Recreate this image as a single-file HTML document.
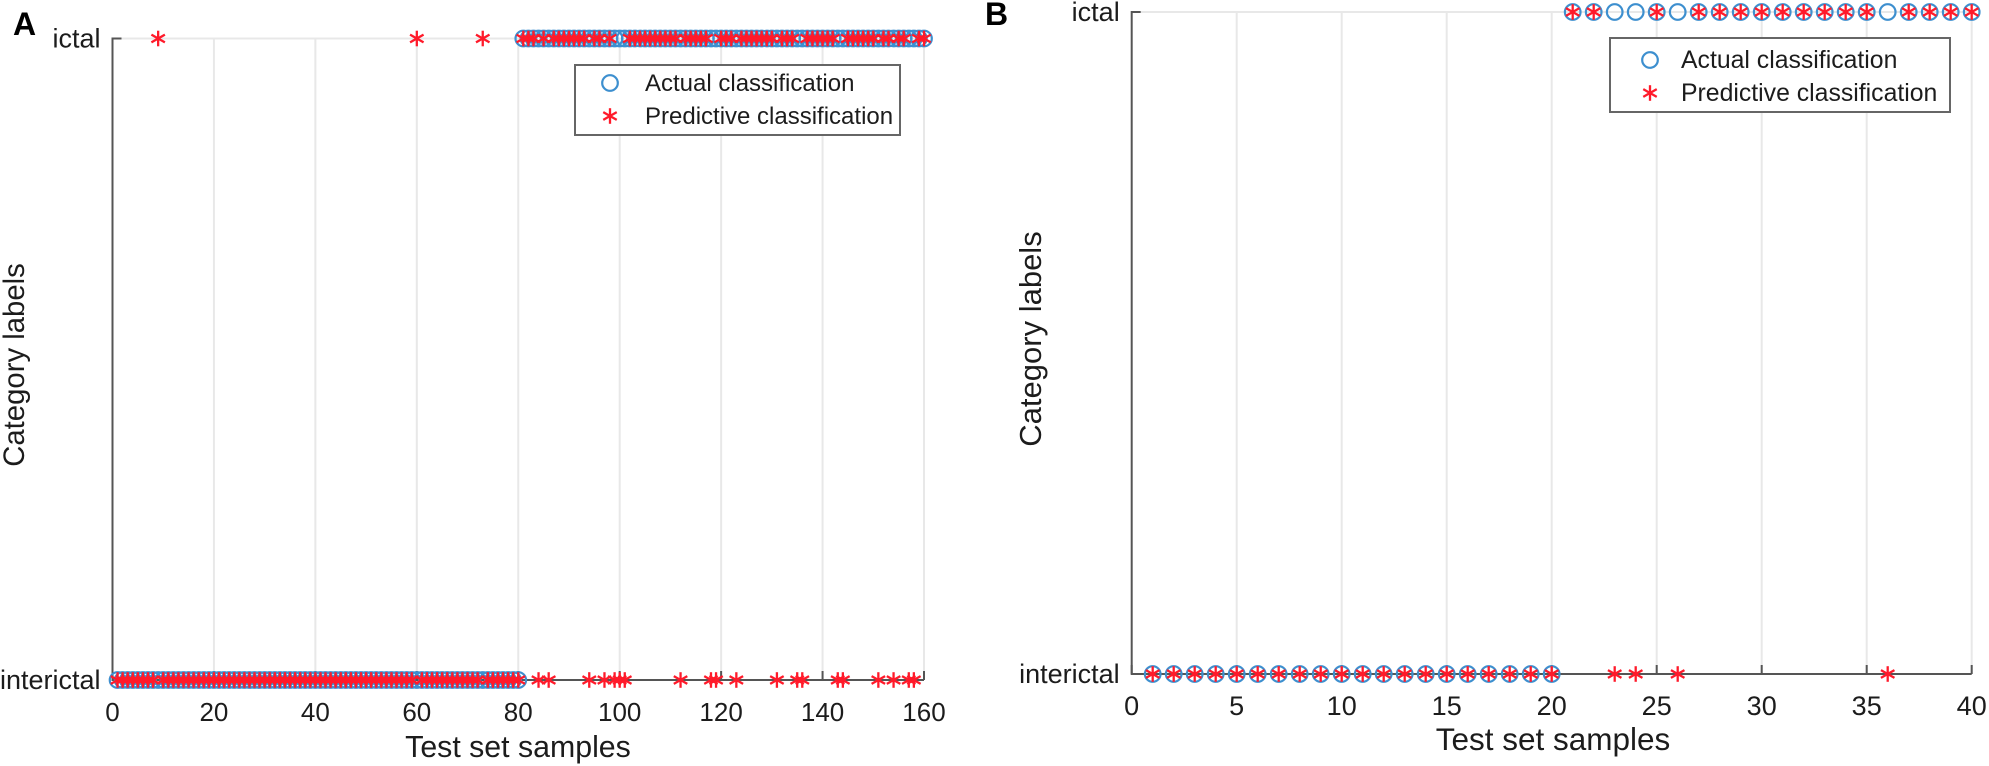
<!DOCTYPE html>
<html>
<head>
<meta charset="utf-8">
<title>Actual vs predictive classification</title>
<style>
html,body{margin:0;padding:0;background:#fff;width:1989px;height:766px;overflow:hidden}
svg{display:block}
text{font-family:"Liberation Sans",sans-serif;fill:#1c1c1c}
</style>
</head>
<body>
<svg id="figure" width="1989" height="766" viewBox="0 0 1989 766" xmlns="http://www.w3.org/2000/svg"></svg>
<script>
const classLabels = ['interictal', 'ictal'];
const xTicksA = [0, 20, 40, 60, 80, 100, 120, 140, 160];
const xTicksB = [0, 5, 10, 15, 20, 25, 30, 35, 40];
const actualA = [
0,0,0,0,0,0,0,0,0,0,0,0,0,0,0,0,0,0,0,0,
0,0,0,0,0,0,0,0,0,0,0,0,0,0,0,0,0,0,0,0,
0,0,0,0,0,0,0,0,0,0,0,0,0,0,0,0,0,0,0,0,
0,0,0,0,0,0,0,0,0,0,0,0,0,0,0,0,0,0,0,0,
1,1,1,1,1,1,1,1,1,1,1,1,1,1,1,1,1,1,1,1,
1,1,1,1,1,1,1,1,1,1,1,1,1,1,1,1,1,1,1,1,
1,1,1,1,1,1,1,1,1,1,1,1,1,1,1,1,1,1,1,1,
1,1,1,1,1,1,1,1,1,1,1,1,1,1,1,1,1,1,1,1];
const predictedA = [
0,0,0,0,0,0,0,0,1,0,0,0,0,0,0,0,0,0,0,0,
0,0,0,0,0,0,0,0,0,0,0,0,0,0,0,0,0,0,0,0,
0,0,0,0,0,0,0,0,0,0,0,0,0,0,0,0,0,0,0,1,
0,0,0,0,0,0,0,0,0,0,0,0,1,0,0,0,0,0,0,0,
1,1,1,0,1,0,1,1,1,1,1,1,1,0,1,1,0,1,0,0,
0,1,1,1,1,1,1,1,1,1,1,0,1,1,1,1,1,0,0,1,
1,1,0,1,1,1,1,1,1,1,0,1,1,1,0,0,1,1,1,1,
1,1,0,0,1,1,1,1,1,1,0,1,1,0,1,1,0,0,1,1];
const actualB = [
0,0,0,0,0,0,0,0,0,0,0,0,0,0,0,0,0,0,0,0,
1,1,1,1,1,1,1,1,1,1,1,1,1,1,1,1,1,1,1,1];
const predictedB = [
0,0,0,0,0,0,0,0,0,0,0,0,0,0,0,0,0,0,0,0,
1,1,0,0,1,0,1,1,1,1,1,1,1,1,1,0,1,1,1,1];

const svgNS = 'http://www.w3.org/2000/svg';
const fig = document.getElementById('figure');
function mk(tag, attrs, parent, txt) {
  const el = document.createElementNS(svgNS, tag);
  for (const k in attrs) el.setAttribute(k, attrs[k]);
  if (txt !== undefined) el.textContent = txt;
  (parent || fig).appendChild(el);
  return el;
}
const BLUE = '#3d8fcf';
const RED = '#ff1a2a';
function star(parent, cx, cy, r) {
  const g = mk('g', {stroke: RED, 'stroke-width': 2.3, fill: 'none'}, parent);
  const dx = r * 0.866, dy = r * 0.5;
  mk('line', {x1: cx, y1: cy - r, x2: cx, y2: cy + r}, g);
  mk('line', {x1: cx - dx, y1: cy - dy, x2: cx + dx, y2: cy + dy}, g);
  mk('line', {x1: cx - dx, y1: cy + dy, x2: cx + dx, y2: cy - dy}, g);
  return g;
}
function drawPanel(p) {
  const root = mk('g', {}, fig);
  
  
  const xMax = p.xTicks[p.xTicks.length - 1];
  const xScale = v => p.left + (v / xMax) * (p.right - p.left);
  const yScale = v => p.bottom + v * (p.top - p.bottom);

  const grid = mk('g', {stroke: '#e8e8e8', 'stroke-width': 2}, root);
  
  
  p.xTicks.slice(1).forEach(t => mk('line', {x1: xScale(t), x2: xScale(t), y1: yScale(1), y2: yScale(0)}, grid));
  mk('line', {x1: p.left, x2: p.right, y1: yScale(1), y2: yScale(1)}, grid);

  const axes = mk('g', {stroke: '#555', 'stroke-width': 2, fill: 'none'}, root);
  
  
  mk('line', {x1: p.left, x2: p.left, y1: yScale(1) - 1, y2: yScale(0) + 1}, axes);
  mk('line', {x1: p.left, x2: p.right, y1: yScale(0), y2: yScale(0)}, axes);
  p.xTicks.forEach(t => mk('line', {x1: xScale(t), x2: xScale(t), y1: yScale(0), y2: yScale(0) - 9}, axes));
  [0, 1].forEach(v => mk('line', {x1: p.left, x2: p.left + 9, y1: yScale(v), y2: yScale(v)}, axes));

  p.xTicks.forEach(t => {
    const el = mk('text', {x: xScale(t), y: p.xTickY, 'text-anchor': 'middle', 'font-size': p.tickFs}, root, t);
    
    
  });
  classLabels.forEach((lab, v) => {
    const el = mk('text', {x: p.left - 12, y: yScale(v) + 9, 'text-anchor': 'end', 'font-size': 27}, root, lab);
    
    
  });

  const xt = mk('text', {x: p.xTitleX, y: p.xTitleY, 'text-anchor': 'middle', 'font-size': p.xTitleFs}, root, 'Test set samples');
  
  
  const yt = mk('text', {x: 0, y: 0, 'text-anchor': 'middle', 'font-size': p.yTitleFs, transform: 'translate(' + p.yTitleX + ' ' + p.yTitleY + ') rotate(-90)'}, root, 'Category labels');
  
  
  const letter = mk('text', {x: p.letterX, y: p.letterY, 'font-size': 32, 'font-weight': 'bold', style: 'fill:#000'}, root, p.letter);
  
  

  const actual = mk('g', {fill: 'none', stroke: BLUE, 'stroke-width': 2.2}, root);
  
  
  p.actual.forEach((v, i) => {
    const c = mk('circle', {cx: xScale(i + 1), cy: yScale(v), r: 7.8}, actual);
    
    
  });
  const pred = mk('g', {}, root);
  
  
  p.predicted.forEach((v, i) => {
    const s = star(pred, xScale(i + 1), yScale(v), 7.8);
    
    
  });

  const L = p.legend;
  const lg = mk('g', {}, root);
  
  
  mk('rect', {x: L.x, y: L.y, width: L.w, height: L.h, fill: '#fff', stroke: '#666', 'stroke-width': 2}, lg);
  const c = mk('circle', {cx: L.sx, cy: L.y1, r: 7.8, fill: 'none', stroke: BLUE, 'stroke-width': 2.2}, lg);
  
  
  const st = star(lg, L.sx, L.y2, 7.8);
  
  
  const t1 = mk('text', {x: L.tx, y: L.y1 + 8, 'font-size': L.fs}, lg, 'Actual classification');
  
  
  const t2 = mk('text', {x: L.tx, y: L.y2 + 8, 'font-size': L.fs}, lg, 'Predictive classification');
  
  
}
drawPanel({
  id: 'panel-a', letter: 'A', letterX: 13, letterY: 35,
  left: 112.5, right: 924, top: 38.5, bottom: 680,
  xTicks: xTicksA, actual: actualA, predicted: predictedA, tickFs: 26,
  xTickY: 721, xTitleX: 518, xTitleY: 757, xTitleFs: 30.3,
  yTitleX: 24, yTitleY: 365, yTitleFs: 29.3,
  legend: {x: 575, y: 65, w: 325, h: 70, sx: 610, y1: 83, y2: 116, tx: 645, fs: 24}
});
drawPanel({
  id: 'panel-b', letter: 'B', letterX: 985, letterY: 25,
  left: 1131.7, right: 1971.7, top: 12, bottom: 674,
  xTicks: xTicksB, actual: actualB, predicted: predictedB, tickFs: 27,
  xTickY: 715, xTitleX: 1553, xTitleY: 750, xTitleFs: 31.5,
  yTitleX: 1041, yTitleY: 339, yTitleFs: 31,
  legend: {x: 1610, y: 38, w: 340, h: 74, sx: 1650, y1: 60, y2: 93, tx: 1681, fs: 24.8}
});
</script>
</body>
</html>
